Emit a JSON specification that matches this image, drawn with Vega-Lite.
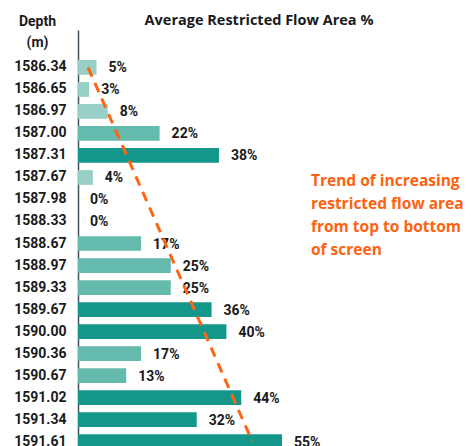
{
  "$schema": "https://vega.github.io/schema/vega-lite/v6.json",
  "autosize": {"type": "none"},
  "padding": {"top": 30, "left": 78, "right": 22, "bottom": 0},
  "width": 371,
  "height": 427,
  "background": "white",
  "config": {
    "view": {"stroke": null},
    "font": "Roboto"
  },
  "datasets": {
    "rows": [
      {"depth": "1586.34", "pct": 5, "label": "5%", "level": "low"},
      {"depth": "1586.65", "pct": 3, "label": "3%", "level": "low"},
      {"depth": "1586.97", "pct": 8, "label": "8%", "level": "low"},
      {"depth": "1587.00", "pct": 22, "label": "22%", "level": "mid"},
      {"depth": "1587.31", "pct": 38, "label": "38%", "level": "high"},
      {"depth": "1587.67", "pct": 4, "label": "4%", "level": "low"},
      {"depth": "1587.98", "pct": 0, "label": "0%", "level": "low"},
      {"depth": "1588.33", "pct": 0, "label": "0%", "level": "low"},
      {"depth": "1588.67", "pct": 17, "label": "17%", "level": "mid"},
      {"depth": "1588.97", "pct": 25, "label": "25%", "level": "mid"},
      {"depth": "1589.33", "pct": 25, "label": "25%", "level": "mid"},
      {"depth": "1589.67", "pct": 36, "label": "36%", "level": "high"},
      {"depth": "1590.00", "pct": 40, "label": "40%", "level": "high"},
      {"depth": "1590.36", "pct": 17, "label": "17%", "level": "mid"},
      {"depth": "1590.67", "pct": 13, "label": "13%", "level": "mid"},
      {"depth": "1591.02", "pct": 44, "label": "44%", "level": "high"},
      {"depth": "1591.34", "pct": 32, "label": "32%", "level": "high"},
      {"depth": "1591.61", "pct": 55, "label": "55%", "level": "high"}
    ],
    "trend": [
      {"depth": "1586.34", "pct": 2.7},
      {"depth": "1591.61", "pct": 47}
    ],
    "note": [
      {"depth": "1587.67", "pct": 62.8, "note": ["Trend of increasing", "restricted flow area", "from top to bottom", "of screen"]}
    ]
  },
  "encoding": {
    "y": {
      "field": "depth",
      "type": "nominal",
      "sort": null,
      "scale": {
        "domain": [" ","1586.34","1586.65","1586.97","1587.00","1587.31","1587.67","1587.98","1588.33","1588.67","1588.97","1589.33","1589.67","1590.00","1590.36","1590.67","1591.02","1591.34","1591.61"],
        "paddingInner": 0.33,
        "paddingOuter": 0.364
      },
      "axis": {
        "title": ["Depth", "(m)"],
        "titleAngle": 0,
        "titleX": -41,
        "titleY": -5,
        "titleAlign": "center",
        "titleBaseline": "alphabetic",
        "titleLineHeight": 21,
        "titleFontSize": 14,
        "titleFontWeight": "bold",
        "titleColor": "#1a1a1a",
        "titleFont": "Roboto",
        "labelFont": "Roboto",
        "labelFontSize": 14,
        "labelFontWeight": "bold",
        "labelColor": "#1a1a1a",
        "labelPadding": 12,
        "ticks": false,
        "grid": false,
        "domainColor": "#44525e",
        "domainWidth": 1.5
      }
    },
    "x": {
      "field": "pct",
      "type": "quantitative",
      "scale": {"domain": [0, 100], "nice": false},
      "axis": {
        "orient": "top",
        "title": "Average Restricted Flow Area %",
        "titleX": 180.5,
        "titleY": -6,
        "titleAlign": "center",
        "titleBaseline": "alphabetic",
        "titleAngle": 0,
        "titleFontSize": 14.5,
        "titleFontWeight": "bold",
        "titleColor": "#1a1a1a",
        "titleFont": "Open Sans",
        "labels": false,
        "ticks": false,
        "domain": false,
        "grid": false
      }
    }
  },
  "layer": [
    {
      "data": {"name": "rows"},
      "mark": {"type": "bar"},
      "encoding": {
        "color": {
          "field": "level",
          "type": "nominal",
          "scale": {"domain": ["low", "mid", "high"], "range": ["#98cfc7", "#64bbad", "#12978a"]},
          "legend": null
        }
      }
    },
    {
      "data": {"name": "rows"},
      "mark": {"type": "text", "align": "left", "baseline": "middle", "dx": 12, "dy": 1, "fontSize": 14, "fontWeight": "bold", "color": "#1a1a1a", "font": "Roboto"},
      "encoding": {
        "text": {"field": "label", "type": "nominal"}
      }
    },
    {
      "data": {"name": "trend"},
      "mark": {"type": "line", "color": "#ff6512", "strokeWidth": 3, "strokeDash": [10, 7]},
      "encoding": {}
    },
    {
      "data": {"name": "note"},
      "mark": {"type": "text", "align": "left", "baseline": "alphabetic", "dy": 8.6, "lineHeight": 23, "fontSize": 15.5, "fontWeight": "bold", "color": "#fe6210", "font": "Open Sans"},
      "encoding": {
        "text": {"field": "note", "type": "nominal"}
      }
    }
  ]
}
